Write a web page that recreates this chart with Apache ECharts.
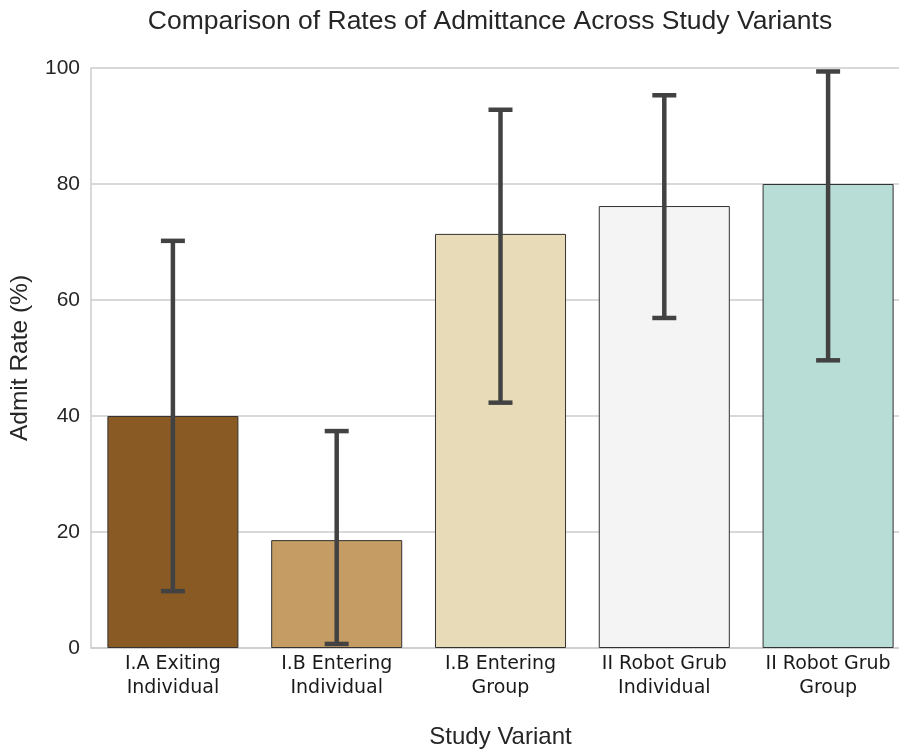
<!DOCTYPE html>
<html><head><meta charset="utf-8">
<script src="https://cdn.jsdelivr.net/npm/echarts@6/dist/echarts.min.js"></script>
<style>html,body{margin:0;padding:0;background:#fff}#c{width:899px;height:749px}</style>
</head><body><div id="c"></div>
<script>
const categories = ['I.A Exiting\nIndividual', 'I.B Entering\nIndividual', 'I.B Entering\nGroup', 'II Robot Grub\nIndividual', 'II Robot Grub\nGroup'];
const rates = [40.0, 18.6, 71.4, 76.2, 80.0];
const errLow = [9.8, 0.7, 42.3, 56.9, 49.6];
const errHigh = [70.2, 37.4, 92.8, 95.3, 99.4];
const barColors = ['#8a5a24', '#c49c64', '#e8dbb7', '#f3f4f3', '#b8dcd6'];
const yTicks = [0, 20, 40, 60, 80, 100];

const chart = echarts.init(document.getElementById('c'));
chart.setOption({
  animation: false,
  title: {
    text: 'Comparison of Rates of Admittance Across Study Variants',
    left: 485, top: 3, textAlign: 'center',
    textStyle: {fontFamily: 'Liberation Sans', fontSize: 26.5, fontWeight: 'normal', color: '#262626'}
  },
  grid: {left: 91, top: 68, width: 819, height: 580, containLabel: false, outerBoundsMode: 'none'},
  xAxis: {
    type: 'category', data: categories,
    name: 'Study Variant', nameLocation: 'middle', nameGap: 77,
    nameTextStyle: {fontFamily: 'Liberation Sans', fontSize: 24, color: '#262626'},
    axisLine: {lineStyle: {color: '#cccccc', width: 1.5}},
    axisTick: {show: false},
    axisLabel: {fontFamily: 'DejaVu Sans', fontSize: 19, color: '#1a1a1a', margin: 4, lineHeight: 24, interval: 0}
  },
  yAxis: {
    type: 'value', min: 0, max: 100, interval: 20,
    name: 'Admit Rate (%)', nameLocation: 'middle', nameGap: 58,
    nameTextStyle: {fontFamily: 'Liberation Sans', fontSize: 24.5, color: '#262626'},
    axisLine: {show: true, lineStyle: {color: '#cccccc', width: 1.5}},
    axisTick: {show: false},
    splitLine: {lineStyle: {color: '#cccccc', width: 1.5}},
    axisLabel: {fontFamily: 'Liberation Sans', fontSize: 21, color: '#262626', margin: 11,
      formatter: v => yTicks.includes(v) ? String(v) : ''}
  },
  series: [
    {
      type: 'bar', barWidth: '80%',
      data: rates.map((v, i) => ({value: v, itemStyle: {color: barColors[i]}})),
      itemStyle: {borderColor: '#333333', borderWidth: 1}
    },
    {
      type: 'custom',
      data: categories.map((c, i) => [i, errLow[i], errHigh[i]]),
      renderItem: function (params, api) {
        const lo = api.coord([api.value(0), api.value(1)]);
        const hi = api.coord([api.value(0), api.value(2)]);
        const hw = 12;
        const st = {stroke: '#424242', lineWidth: 4.5};
        return {type: 'group', children: [
          {type: 'line', shape: {x1: lo[0], y1: lo[1], x2: hi[0], y2: hi[1]}, style: st},
          {type: 'line', shape: {x1: lo[0] - hw, y1: lo[1], x2: lo[0] + hw, y2: lo[1]}, style: st},
          {type: 'line', shape: {x1: hi[0] - hw, y1: hi[1], x2: hi[0] + hw, y2: hi[1]}, style: st}
        ]};
      },
      z: 10
    }
  ]
});
</script></body></html>
